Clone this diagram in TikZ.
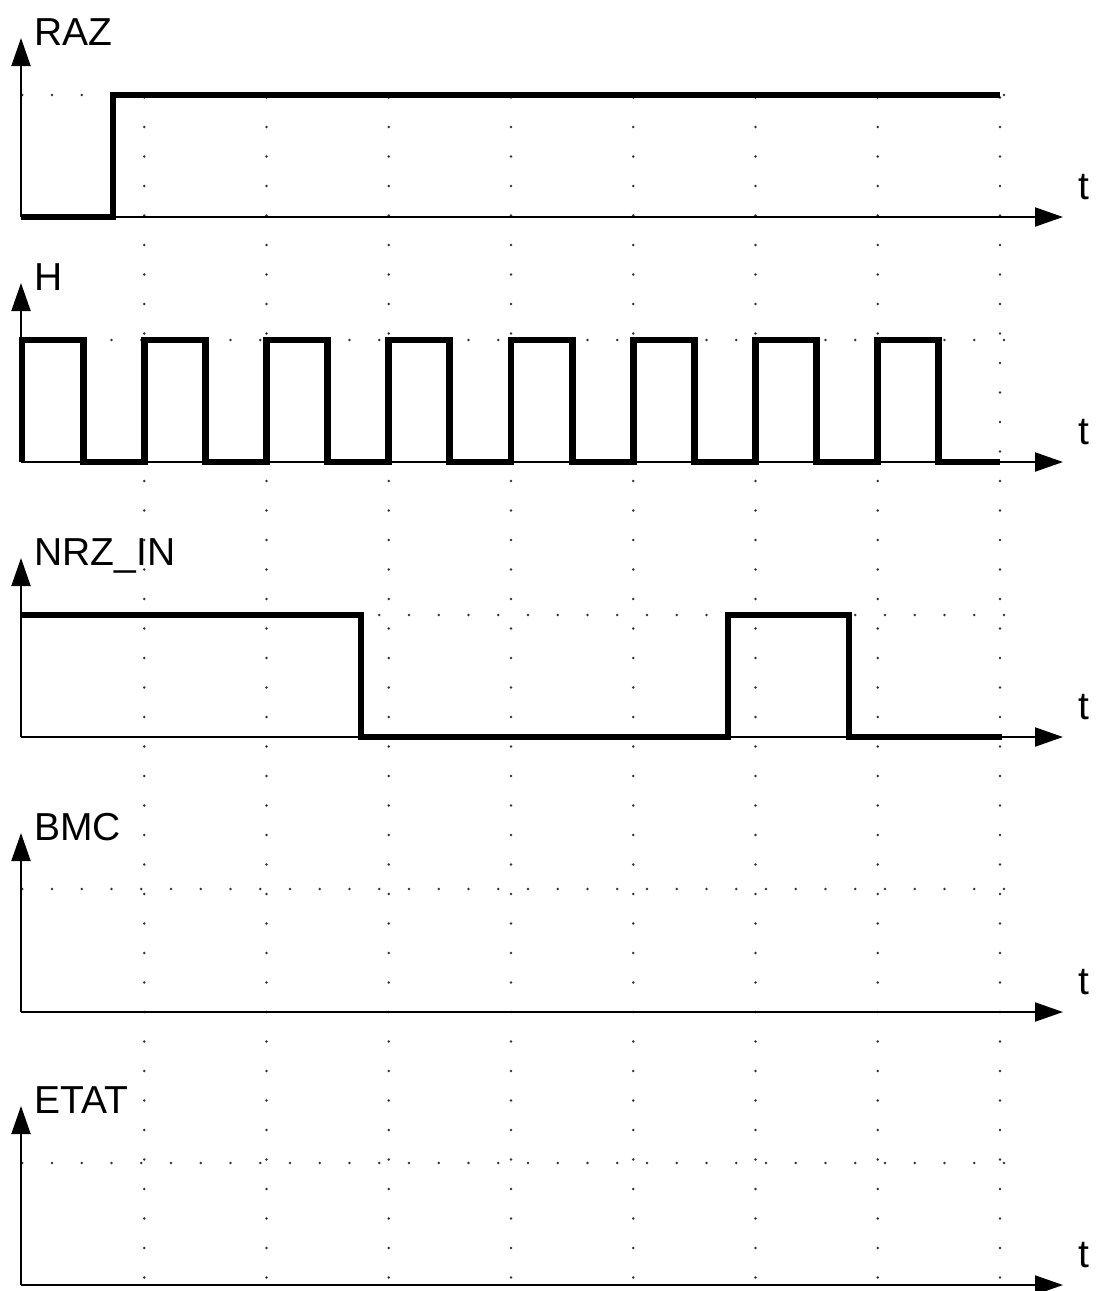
\documentclass[tikz,border=0pt]{standalone}
\usepackage{fontspec}
\setmainfont{Liberation Sans}
\usetikzlibrary{arrows.meta}
\begin{document}
\begin{tikzpicture}[x=0.5pt,y=-0.5pt,
  axis/.style={line width=1pt,-{Triangle[length=14pt,width=9.5pt]}},
  sig/.style={line width=3.4pt,line join=miter,line cap=butt},
  vgrid/.style={line width=1.3pt,line cap=round,dash pattern=on 0pt off 14.75pt,black!80},
  hgrid/.style={line width=1.3pt,line cap=round,dash pattern=on 0pt off 14.875pt,black!80},
  lbl/.style={font=\fontsize{19.5}{23}\selectfont,inner sep=0pt,anchor=base west}]
\useasboundingbox (0,0) rectangle (1096,1291);
% vertical dotted grid lines (clock rising edges)
\foreach \k in {1,...,8}
  \draw[vgrid] ({22+122.25*\k},97.5) -- ({22+122.25*\k},1290);
% horizontal dotted high levels
\foreach \hy in {95,340,615,889,1163}
  \draw[hgrid] (22.25,\hy) -- (1010,\hy);
% axes and labels
\foreach \ay/\nm/\lab in {217/raz/RAZ,462/h/H,737/nrz/NRZ\_IN,1012/bmc/BMC,1285/etat/ETAT}{
  \coordinate (o-\nm) at (21,\ay);
  \coordinate (ytip-\nm) at (21,\ay-179);
  \coordinate (xtip-\nm) at (1063,\ay);
  \draw[axis] (o-\nm) -- (ytip-\nm);
  \draw[axis] (o-\nm) -- (xtip-\nm);
  \node[lbl] (lab-\nm) at (34,\ay-172) {\lab};
  \node[lbl] (t-\nm) at (1078,\ay-18) {t};
}
% RAZ
\draw[sig] (21,217) -- (113,217) -- (113,95) -- (1000,95);
% H clock
\draw[sig] (22,462) \foreach \k in {0,...,7}{
  -- ({22+122.25*\k},340) -- ({22+122.25*\k+61.1},340)
  -- ({22+122.25*\k+61.1},462) -- ({22+122.25*(\k+1)},462)};
% NRZ_IN
\draw[sig] (21,615) -- (361,615) -- (361,737) -- (728,737) -- (728,615)
  -- (849,615) -- (849,737) -- (1002,737);
\end{tikzpicture}
\end{document}
